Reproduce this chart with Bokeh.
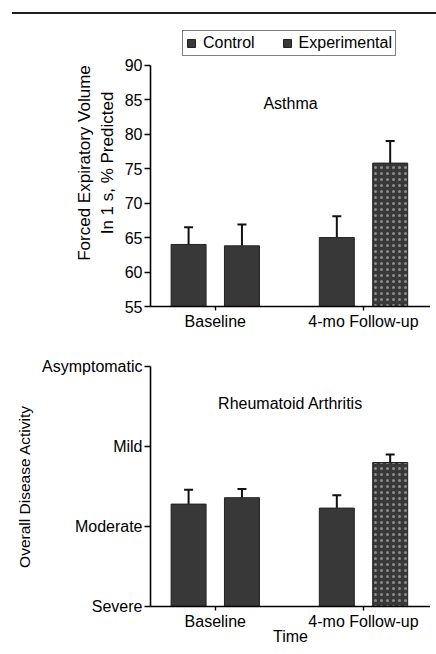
from bokeh.plotting import figure
from bokeh.models import (ColumnDataSource, Range1d, FixedTicker, Whisker, TeeHead,
                          Legend, LegendItem, Div, Label)
from bokeh.layouts import column
from bokeh.embed import file_html
from bokeh.resources import INLINE

# ---------------- data ----------------
groups = ["Baseline", "4-mo Follow-up"]
series = ["Control", "Experimental"]

fev_control = [64.0, 65.0]
fev_control_upper = [66.5, 68.1]
fev_exp = [63.8, 75.8]
fev_exp_upper = [66.9, 79.0]
fev_ticks = [55, 60, 65, 70, 75, 80, 85, 90]

ra_control = [1.28, 1.23]
ra_control_upper = [1.46, 1.39]
ra_exp = [1.36, 1.80]
ra_exp_upper = [1.47, 1.90]
ra_levels = ["Severe", "Moderate", "Mild", "Asymptomatic"]

# ---------------- style ----------------
FONT = "Liberation Sans"
BAR = "#383838"
OFFSET = 0.18
WIDTH = 0.236
X_START = -0.437
X_END = 1.452


def style_axes(p):
    for ax in (p.xaxis[0], p.yaxis[0]):
        ax.axis_line_width = 1.6
        ax.axis_line_color = "black"
        ax.major_tick_line_width = 1.4
        ax.major_tick_in = 0
        ax.minor_tick_line_color = None
        ax.major_label_text_font = FONT
        ax.major_label_text_color = "black"
        ax.major_label_text_font_size = "16px"
        ax.axis_label_text_font = FONT
        ax.axis_label_text_font_style = "normal"
        ax.axis_label_text_color = "black"
    p.yaxis[0].major_tick_out = 6
    p.yaxis[0].major_label_standoff = 2
    p.xaxis[0].major_tick_out = 4
    p.xaxis[0].major_label_standoff = 2
    p.xaxis[0].ticker = FixedTicker(ticks=list(range(len(groups))))
    p.xaxis[0].major_label_overrides = {i: g for i, g in enumerate(groups)}
    p.xgrid.visible = False
    p.ygrid.visible = False
    p.outline_line_color = None


def add_bars(p, ctrl, ctrl_up, exp, exp_up):
    xs_c = [i - OFFSET for i in range(len(groups))]
    xs_e = [i + OFFSET for i in range(len(groups))]
    hatch = [" " if g == groups[0] else "dot" for g in groups]
    src_c = ColumnDataSource(dict(x=xs_c, top=ctrl, up=ctrl_up))
    src_e = ColumnDataSource(dict(x=xs_e, top=exp, up=exp_up, hatch=hatch))
    base = p.y_range.start
    rc = p.vbar(x="x", top="top", bottom=base, width=WIDTH, source=src_c,
                fill_color=BAR, line_color="#222222", line_width=1)
    re_ = p.vbar(x="x", top="top", bottom=base, width=WIDTH, source=src_e,
                 fill_color=BAR, line_color="#222222", line_width=1,
                 hatch_pattern="hatch", hatch_color="#e0e0e0", hatch_scale=6,
                 hatch_weight=1.2, hatch_alpha=0.5)
    for src in (src_c, src_e):
        w = Whisker(source=src, base="x", lower="top", upper="up", dimension="height",
                    line_width=2, line_color="#111111", lower_head=None,
                    upper_head=TeeHead(size=9, line_width=2, line_color="#111111"))
        p.add_layout(w)
    return rc, re_


# ---------------- top rule ----------------
rule = Div(text="", width=424, height=14, margin=(0, 0, 0, 12),
           styles={"border-bottom": "2px solid #1e1e1e"})

# ---------------- Asthma panel ----------------
p1 = figure(width=430, height=319, output_backend="svg", toolbar_location=None,
            x_range=Range1d(X_START, X_END), y_range=Range1d(55, 96.63),
            min_border_left=150, min_border_right=0, min_border_top=5,
            min_border_bottom=27, background_fill_color="white")
style_axes(p1)
p1.yaxis[0].ticker = FixedTicker(ticks=fev_ticks)
p1.yaxis[0].bounds = (fev_ticks[0], fev_ticks[-1])
p1.yaxis[0].axis_label = "Forced Expiratory Volume\nIn 1 s, % Predicted"
p1.yaxis[0].axis_label_text_font_size = "17px"
p1.yaxis[0].axis_label_standoff = 5
rc1, re1 = add_bars(p1, fev_control, fev_control_upper, fev_exp, fev_exp_upper)
p1.add_layout(Label(x=0.508, y=84.4, text="Asthma", text_font=FONT,
                    text_font_size="16px", text_align="center",
                    text_baseline="middle", text_color="black"))
legend = Legend(items=[LegendItem(label=series[0], renderers=[rc1], index=0),
                       LegendItem(label=series[1], renderers=[re1], index=0)],
                orientation="horizontal", location=(32, 250),
                label_text_font=FONT, label_text_font_size="16px",
                label_text_color="black", glyph_width=10, glyph_height=10,
                label_standoff=7, spacing=27, padding=3, margin=0,
                label_height=14, border_line_color="black", border_line_width=1.5,
                background_fill_color="white", background_fill_alpha=1)
p1.add_layout(legend, "center")

# ---------------- Rheumatoid arthritis panel ----------------
p2 = figure(width=430, height=317, output_backend="svg", toolbar_location=None,
            x_range=Range1d(X_START, X_END), y_range=Range1d(0, len(ra_levels) - 1),
            min_border_left=150, min_border_right=0, min_border_top=33,
            min_border_bottom=44, background_fill_color="white")
style_axes(p2)
p2.yaxis[0].ticker = FixedTicker(ticks=list(range(len(ra_levels))))
p2.yaxis[0].major_label_overrides = {i: s for i, s in enumerate(ra_levels)}
p2.yaxis[0].axis_label = "Overall Disease Activity"
p2.yaxis[0].axis_label_text_font_size = "15.5px"
p2.yaxis[0].axis_label_standoff = 6
p2.xaxis[0].axis_label = "Time"
p2.xaxis[0].axis_label_text_font_size = "16px"
p2.xaxis[0].axis_label_standoff = -5
add_bars(p2, ra_control, ra_control_upper, ra_exp, ra_exp_upper)
p2.add_layout(Label(x=0.508, y=2.54, text="Rheumatoid Arthritis", text_font=FONT,
                    text_font_size="16px", text_align="center",
                    text_baseline="middle", text_color="black"))

page = column(rule, p1, p2, spacing=0)
open("out.html", "w").write(file_html(page, INLINE))
